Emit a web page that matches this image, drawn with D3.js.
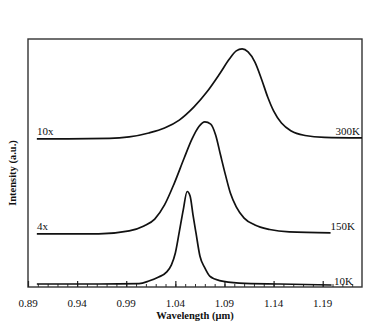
<!DOCTYPE html>
<html>
<head>
<meta charset="utf-8">
<script src="https://cdn.jsdelivr.net/npm/d3@7"></script>
<style>
  body { margin: 0; background: #fff; }
  text { font-family: 'Liberation Serif', 'DejaVu Serif', serif; fill: #111; }
</style>
</head>
<body>
<div class="chart"></div>
<script>
let width = 369;
let height = 324;

// spectra (wavelength in um, intensity in a.u. incl. offset)
let wl10K  = [0.899, 0.962, 1.003, 1.013, 1.023, 1.031, 1.036, 1.040, 1.044, 1.048, 1.052, 1.055, 1.058, 1.061, 1.065, 1.070, 1.075, 1.085, 1.105, 1.146, 1.199];
let int10K = [1.2, 1.2, 1.4, 2.4, 4.0, 6.0, 8.9, 13.7, 22.2, 31.0, 38.5, 36.7, 29.0, 21.8, 12.5, 7.7, 4.4, 2.6, 1.6, 1.2, 0.8];

let wl150K  = [0.899, 0.962, 0.993, 1.008, 1.019, 1.029, 1.039, 1.049, 1.057, 1.064, 1.070, 1.076, 1.081, 1.086, 1.091, 1.096, 1.102, 1.110, 1.121, 1.136, 1.156, 1.198];
let int150K = [21.4, 21.4, 22.6, 24.6, 27.4, 33.1, 41.9, 52.0, 59.7, 64.7, 66.6, 65.7, 61.3, 53.2, 45.2, 37.9, 32.3, 27.8, 25.0, 23.2, 22.2, 21.8];

let wl300K  = [0.899, 0.973, 0.993, 1.013, 1.029, 1.044, 1.059, 1.072, 1.085, 1.095, 1.102, 1.108, 1.114, 1.121, 1.128, 1.134, 1.140, 1.148, 1.158, 1.172, 1.192, 1.230];
let int300K = [59.7, 59.9, 60.5, 62.1, 64.1, 67.3, 72.6, 78.6, 85.9, 91.9, 95.2, 96.0, 94.8, 90.7, 83.5, 76.6, 71.0, 66.1, 62.9, 61.1, 60.3, 60.1];

let xTicks = [0.89, 0.94, 0.99, 1.04, 1.09, 1.14, 1.19];
let tempLabels = ['10K', '150K', '300K'];
let gainLabels = ['', '4x', '10x'];

let svg = d3.select('.chart')
            .append('svg')
            .attr('width', width)
            .attr('height', height);

let xScale = d3.scaleLinear()
               .domain([0.89, 1.23])
               .range([28, 362]);
let yScale = d3.scaleLinear()
               .domain([0, 100])
               .range([287, 39]);

// frame
svg.append('rect')
   .attr('x', 28)
   .attr('y', 39)
   .attr('width', 334)
   .attr('height', 248)
   .attr('fill', 'none')
   .attr('stroke', '#333')
   .attr('stroke-width', 1.4);

// bottom axis: major + minor ticks pointing inward
let minor = d3.range(90, 123).map(d => d / 100);
svg.append('g')
   .attr('transform', 'translate(0,287)')
   .call(d3.axisTop(xScale).tickValues(minor).tickSize(3).tickFormat(''))
   .call(g => g.select('.domain').remove())
   .selectAll('line').attr('stroke', '#333');
svg.append('g')
   .attr('transform', 'translate(0,287)')
   .call(d3.axisTop(xScale).tickValues(xTicks).tickSize(6).tickFormat(''))
   .call(g => g.select('.domain').remove())
   .selectAll('line').attr('stroke', '#222').attr('stroke-width', 1.2);

svg.selectAll('.xlab')
   .data(xTicks)
   .enter()
   .append('text')
   .attr('class', 'xlab')
   .attr('x', d => xScale(d))
   .attr('y', 307)
   .attr('text-anchor', 'middle')
   .style('font-size', '11px')
   .text(d => d3.format('.2f')(d));

svg.append('text')
   .attr('x', 195)
   .attr('y', 319)
   .attr('text-anchor', 'middle')
   .style('font-size', '10.5px')
   .style('font-weight', 'bold')
   .text('Wavelength (\u03bcm)');

svg.append('text')
   .attr('transform', 'rotate(-90)')
   .attr('x', -173)
   .attr('y', 16)
   .attr('text-anchor', 'middle')
   .style('font-size', '10.5px')
   .style('font-weight', 'bold')
   .text('Intensity (a.u.)');

// spectra
let series = [
  { wl: wl10K, val: int10K },
  { wl: wl150K, val: int150K },
  { wl: wl300K, val: int300K }
];
let line = d3.line()
             .x(d => xScale(d[0]))
             .y(d => yScale(d[1]))
             .curve(d3.curveMonotoneX);

svg.selectAll('.spec')
   .data(series)
   .enter()
   .append('path')
   .attr('class', 'spec')
   .attr('d', s => line(s.wl.map((w, i) => [w, s.val[i]])))
   .attr('fill', 'none')
   .attr('stroke', '#111')
   .attr('stroke-width', 1.7);

// temperature labels at right end, gain labels at left
svg.selectAll('.tlab')
   .data(series)
   .enter()
   .append('text')
   .attr('class', 'tlab')
   .attr('x', (s, i) => i == 2 ? 360 : (i == 1 ? 355 : 334))
   .attr('y', (s, i) => yScale(s.val[s.val.length - 1]) - (i == 0 ? 0 : 3))
   .attr('text-anchor', (s, i) => i == 0 ? 'start' : 'end')
   .style('font-size', '11px')
   .text((s, i) => tempLabels[i]);

svg.selectAll('.glab')
   .data(series)
   .enter()
   .append('text')
   .attr('class', 'glab')
   .attr('x', 37)
   .attr('y', s => yScale(s.val[0]) - 4)
   .style('font-size', '11px')
   .text((s, i) => gainLabels[i]);
</script>
</body>
</html>
